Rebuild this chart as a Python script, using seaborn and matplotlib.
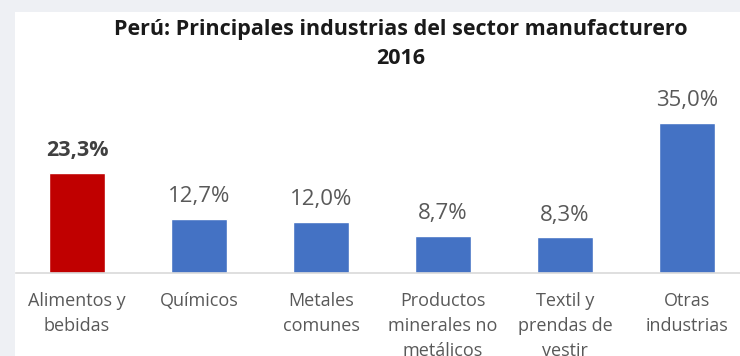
import matplotlib
matplotlib.use("Agg")
import matplotlib.pyplot as plt
from matplotlib.patches import Rectangle
import seaborn as sns
import pandas as pd

# Manufacturing sector shares, Peru 2016
categories = [
    "Alimentos y\nbebidas",
    "Químicos",
    "Metales\ncomunes",
    "Productos\nminerales no\nmetálicos",
    "Textil y\nprendas de\nvestir",
    "Otras\nindustrias",
]
shares = [23.3, 12.7, 12.0, 8.7, 8.3, 35.0]
value_labels = ["23,3%", "12,7%", "12,0%", "8,7%", "8,3%", "35,0%"]
highlight = ["sí", "no", "no", "no", "no", "no"]

sns.set_theme(style="white")
plt.rcParams["font.family"] = ["Open Sans", "DejaVu Sans"]

df = pd.DataFrame({"categoria": categories, "participacion": shares, "destacado": highlight})

W, H = 740, 356
fig = plt.figure(figsize=(W / 100, H / 100), dpi=100)
fig.patch.set_facecolor("#eef0f4")

# white chart panel behind everything
bg = fig.add_axes([0, 0, 1, 1], zorder=-1)
bg.set_axis_off()
bg.set_xlim(0, 1)
bg.set_ylim(0, 1)
bg.add_patch(Rectangle((15 / W, 0), 1 - 15 / W, (H - 12) / H,
                       facecolor="white", edgecolor="none"))

base_y = (H - 273) / H
ax_h = 40 * 4.29 / H
ax = fig.add_axes([16 / W, base_y, 1 - 16 / W, ax_h], zorder=1)
ax.set_facecolor("none")

sns.barplot(data=df, x="categoria", y="participacion", hue="destacado",
            palette={"sí": "#C00000", "no": "#4472C4"}, dodge=False,
            width=0.46, legend=False, ax=ax, saturation=1)

ax.set_ylim(0, 40)
ax.set_xlim(-0.5, 5.434)
ax.set_xlabel("")
ax.set_ylabel("")
ax.set_yticks([])
for side in ["left", "right", "top"]:
    ax.spines[side].set_visible(False)
ax.spines["bottom"].set_color("#d9d9d9")
ax.spines["bottom"].set_linewidth(1.2)

ax.tick_params(axis="x", length=0, pad=13.5)
for lbl in ax.get_xticklabels():
    lbl.set_fontsize(13)
    lbl.set_color("#595959")
    lbl.set_linespacing(1.52)
    lbl.set_verticalalignment("top")

for i, (v, txt) in enumerate(zip(shares, value_labels)):
    bold = i == 0
    ax.annotate(txt, (i, v), xytext=(0, 16), textcoords="offset points",
                ha="center", va="center", fontsize=16 if not bold else 15.5,
                fontweight="bold" if bold else "normal",
                color="#404040" if bold else "#595959",
                annotation_clip=False)

fig.text(401 / W, (H - 29.5) / H, "Perú: Principales industrias del sector manufacturero",
         ha="center", va="center", fontsize=15.5, fontweight="bold", color="#1a1a1a")
fig.text(401 / W, (H - 59) / H, "2016", ha="center", va="center",
         fontsize=15.5, fontweight="bold", color="#1a1a1a")

fig.savefig("out.png", dpi=100)
